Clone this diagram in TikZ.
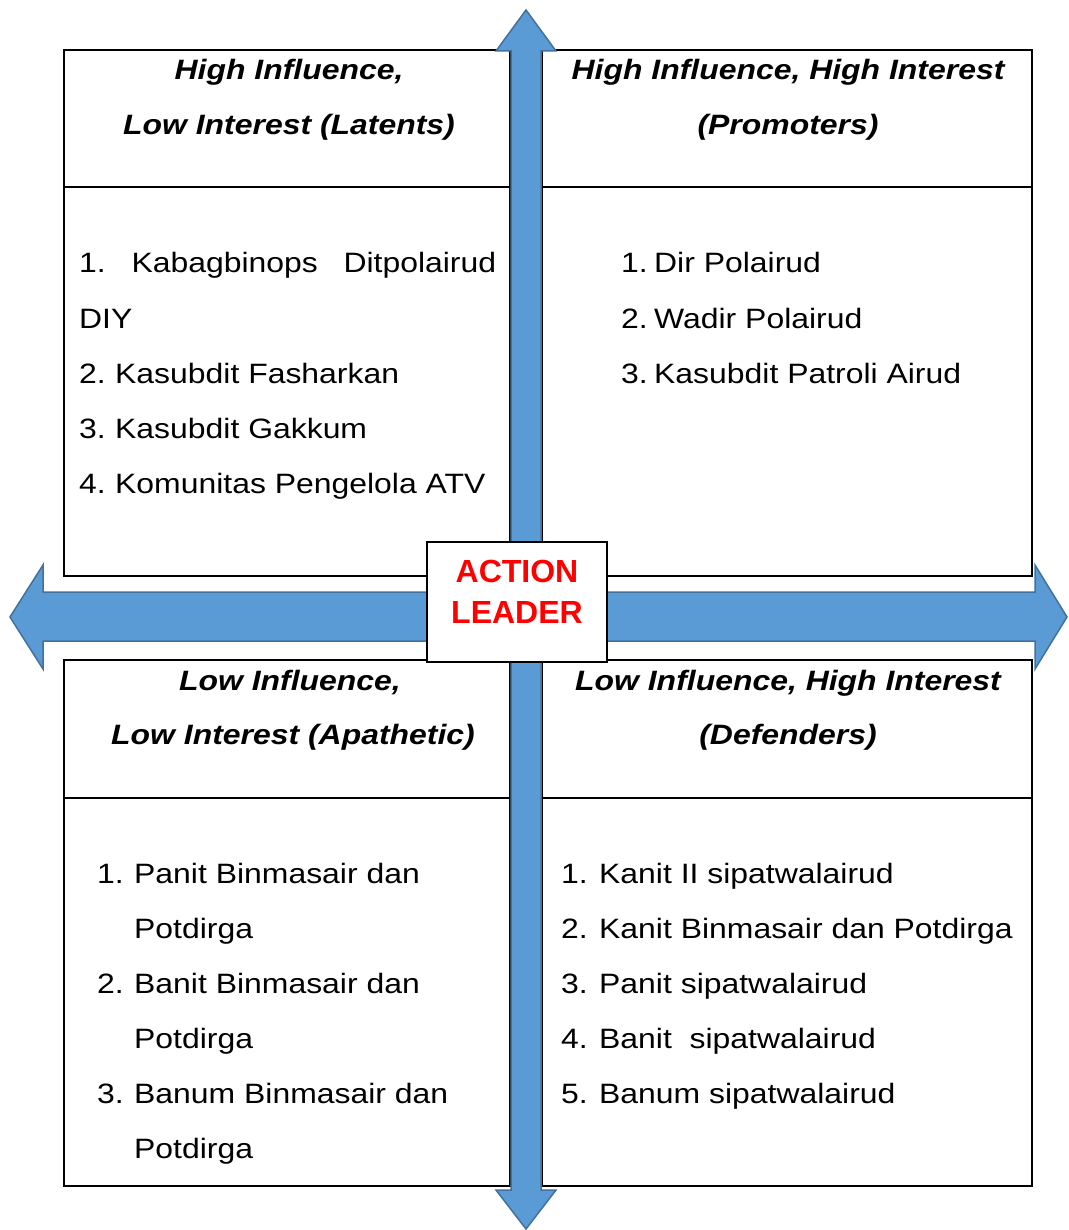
\documentclass[tikz,border=0pt]{standalone}
\usepackage{fontspec}
\setmainfont{Liberation Sans}[FakeStretch=1.14]
\newfontfamily\leaderfont{Liberation Sans}
\definecolor{arrowblue}{HTML}{5B9BD5}
\definecolor{arrowedge}{HTML}{41719C}
\newcommand{\itemno}[2][36pt]{\makebox[#1][l]{#2}}
\frenchspacing
\tikzset{
  quad/.style={draw, line width=1.6pt, fill=white},
  head/.style={font=\bfseries\itshape\fontsize{28}{33}\selectfont, anchor=base, inner sep=0pt},
  entry/.style={font=\fontsize{28}{33}\selectfont, anchor=base west, inner sep=0pt},
  blockarrow/.style={fill=arrowblue, draw=arrowedge, line width=1.5pt, line join=miter},
  leaderbox/.style={draw, line width=1.6pt, fill=white, minimum width=180pt, minimum height=120pt, inner sep=0pt},
  leadertext/.style={text=red, font=\leaderfont\bfseries\fontsize{32}{36}\selectfont, anchor=base, inner sep=0pt}
}
\begin{document}
\begin{tikzpicture}[x=1pt, y=-1pt]
  \useasboundingbox (0,0) rectangle (1068,1230);

  % the four quadrants
  \draw[quad] (64,50) rectangle (510,576);
  \draw[quad] (64,187) -- (510,187);
  \draw[quad] (542,50) rectangle (1032,576);
  \draw[quad] (542,187) -- (1032,187);
  \draw[quad] (64,660) rectangle (510,1186);
  \draw[quad] (64,798) -- (510,798);
  \draw[quad] (542,660) rectangle (1032,1186);
  \draw[quad] (542,798) -- (1032,798);

  % headers
  \node[head] (tlh1) at (289,80) {High Influence,};
  \node[head] (tlh2) at (289,135) {Low Interest (Latents)};
  \node[head] (trh1) at (788,80) {High Influence, High Interest};
  \node[head] (trh2) at (788,135) {(Promoters)};
  \node[head] (blh1) at (290,690) {Low Influence,};
  \node[head] (blh2) at (293,744) {Low Interest (Apathetic)};
  \node[head] (brh1) at (788,690) {Low Influence, High Interest};
  \node[head] (brh2) at (788,744) {(Defenders)};

  % high influence, low interest
  \node[entry] (tl1) at (79,273) {\makebox[417pt][s]{1. Kabagbinops Ditpolairud}};
  \node[entry] (tl2) at (79,328) {DIY};
  \node[entry] (tl3) at (79,383) {\itemno{2.}Kasubdit Fasharkan};
  \node[entry] (tl4) at (79,438) {\itemno{3.}Kasubdit Gakkum};
  \node[entry] (tl5) at (79,493) {\itemno{4.}Komunitas Pengelola ATV};

  % high influence, high interest
  \node[entry] (tr1) at (621,273) {\itemno[33pt]{1.}Dir Polairud};
  \node[entry] (tr2) at (621,328) {\itemno[33pt]{2.}Wadir Polairud};
  \node[entry] (tr3) at (621,383) {\itemno[33pt]{3.}Kasubdit Patroli Airud};

  % low influence, low interest
  \node[entry] (bl1) at (97,883) {\itemno[37pt]{1.}Panit Binmasair dan};
  \node[entry] (bl2) at (134,938) {Potdirga};
  \node[entry] (bl3) at (97,993) {\itemno[37pt]{2.}Banit Binmasair dan};
  \node[entry] (bl4) at (134,1048) {Potdirga};
  \node[entry] (bl5) at (97,1103) {\itemno[37pt]{3.}Banum Binmasair dan};
  \node[entry] (bl6) at (134,1158) {Potdirga};

  % low influence, high interest
  \node[entry] (br1) at (561,883) {\itemno[38pt]{1.}Kanit II sipatwalairud};
  \node[entry] (br2) at (561,938) {\itemno[38pt]{2.}Kanit Binmasair dan Potdirga};
  \node[entry] (br3) at (561,993) {\itemno[38pt]{3.}Panit sipatwalairud};
  \node[entry] (br4) at (561,1048) {\itemno[38pt]{4.}Banit\ \ sipatwalairud};
  \node[entry] (br5) at (561,1103) {\itemno[38pt]{5.}Banum sipatwalairud};

  % axes
  \draw[blockarrow] (526,10) -- (556,51) -- (541,51) -- (541,1190) -- (556,1190)
    -- (526,1229) -- (496,1190) -- (511,1190) -- (511,51) -- (496,51) -- cycle;
  \draw[blockarrow] (10,617) -- (43,565) -- (43,592) -- (1035,592) -- (1035,565)
    -- (1067,617) -- (1035,669) -- (1035,641) -- (43,641) -- (43,669) -- cycle;

  % centre
  \node[leaderbox] (leader) at (517,602) {};
  \node[leadertext] (act) at (517,582) {ACTION};
  \node[leadertext] (lead) at (517,623) {LEADER};
\end{tikzpicture}
\end{document}
